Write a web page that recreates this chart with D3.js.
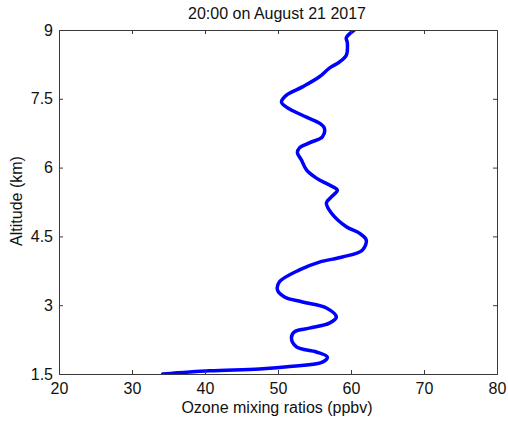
<!DOCTYPE html>
<html>
<head>
<meta charset="utf-8">
<script src="https://cdn.jsdelivr.net/npm/d3@7"></script>
<style>
  html, body { margin: 0; padding: 0; background: #fff; }
  svg { display: block; font-family: "Liberation Sans", Arial, sans-serif; }
</style>
</head>
<body>
<svg id="chart" width="508" height="421"></svg>
<script>
// Ozone profile sampled along altitude (ppbv, km)
const ozone = [60.45, 59.36, 59.5, 59.36, 58.4, 57.04, 55.67, 53.35, 51.16, 50.48,
  51.16, 53.9, 55.67, 56.35, 56.08, 54.3, 52.94, 52.66, 53.2, 53.9,
  55.26, 57.04, 58.13, 57.31, 56.63, 57.31, 59.36, 61.14, 62.09, 61.55,
  58.81, 55.67, 52.94, 50.2, 49.93, 50.89, 53.35, 56.63, 57.99, 57.04,
  54.3, 52.25, 51.84, 52.53, 55.26, 56.76, 56.08, 51.98, 47.47, 40.64, 34.2];
const altitude = [9.0, 8.83, 8.72, 8.45, 8.30, 8.17, 7.98, 7.76, 7.58, 7.43,
  7.32, 7.10, 6.97, 6.86, 6.67, 6.54, 6.43, 6.32, 6.17, 5.95,
  5.77, 5.62, 5.51, 5.36, 5.23, 5.01, 4.71, 4.57, 4.42, 4.20,
  4.05, 3.94, 3.77, 3.51, 3.33, 3.18, 3.07, 2.94, 2.74, 2.61,
  2.50, 2.42, 2.29, 2.09, 1.98, 1.87, 1.76, 1.67, 1.61, 1.57, 1.5];

const xTicks = [20, 30, 40, 50, 60, 70, 80];
const yTicks = [1.5, 3, 4.5, 6, 7.5, 9];
const yTickLabels = ["1.5", "3", "4.5", "6", "7.5", "9"];

const titleText = "20:00 on August 21 2017";
const xLabelText = "Ozone mixing ratios (ppbv)";
const yLabelText = "Altitude (km)";

const svg = d3.select("#chart");
const box = { left: 59, right: 497, top: 30, bottom: 374 };

const x = d3.scaleLinear().domain([20, 80]).range([box.left, box.right]);
const y = d3.scaleLinear().domain([1.5, 9]).range([box.bottom, box.top]);

const axisColor = "#3a3a3a";
const tickLen = 4;
const fontSize = "16px";

// Clip the profile to the axes box
svg.append("clipPath").attr("id", "plotClip")
  .append("rect").attr("x", box.left).attr("y", box.top)
  .attr("width", box.right - box.left).attr("height", box.bottom - box.top);

// Profile line
const pts = ozone.map((v, i) => [v, altitude[i]]);
svg.append("path")
  .datum(pts)
  .attr("clip-path", "url(#plotClip)")
  .attr("fill", "none")
  .attr("stroke", "#0000ff")
  .attr("stroke-width", 3.5)
  .attr("stroke-linejoin", "round")
  .attr("stroke-linecap", "round")
  .attr("d", d3.line().x(d => x(d[0])).y(d => y(d[1])).curve(d3.curveCatmullRom.alpha(0.5)));

// Axes box (bottom/left with labels, top/right mirrored ticks)
const gB = svg.append("g").attr("transform", `translate(0,${box.bottom})`)
  .call(d3.axisBottom(x).tickValues(xTicks).tickSize(-tickLen).tickPadding(9).tickFormat(d3.format("d")));
const gT = svg.append("g").attr("transform", `translate(0,${box.top})`)
  .call(d3.axisTop(x).tickValues(xTicks).tickSize(-tickLen).tickFormat(""));
const gL = svg.append("g").attr("transform", `translate(${box.left},0)`)
  .call(d3.axisLeft(y).tickValues(yTicks).tickSize(-tickLen).tickPadding(6)
    .tickFormat((d, i) => yTickLabels[i]));
const gR = svg.append("g").attr("transform", `translate(${box.right},0)`)
  .call(d3.axisRight(y).tickValues(yTicks).tickSize(-tickLen).tickFormat(""));

[gB, gT, gL, gR].forEach(g => {
  g.select(".domain").attr("stroke", axisColor).attr("stroke-width", 1);
  g.selectAll(".tick line").attr("stroke", axisColor).attr("stroke-width", 1);
  g.selectAll(".tick text").attr("fill", "#111").style("font-size", fontSize)
    .style("font-family", '"Liberation Sans", Arial, sans-serif');
});
// Remove end ticks that sit on the box corners
[gB, gT].forEach(g => g.selectAll(".tick line").filter(d => d === 20 || d === 80).remove());
[gL, gR].forEach(g => g.selectAll(".tick line").filter(d => d === 1.5 || d === 9).remove());

// Title and axis labels
svg.append("text").attr("x", 277).attr("y", 19)
  .attr("text-anchor", "middle").attr("fill", "#111").style("font-size", fontSize)
  .text(titleText);
svg.append("text").attr("x", 277).attr("y", 413)
  .attr("text-anchor", "middle").attr("fill", "#111").style("font-size", fontSize)
  .text(xLabelText);
svg.append("text")
  .attr("transform", `translate(22,201) rotate(-90)`)
  .attr("text-anchor", "middle").attr("fill", "#111").style("font-size", fontSize)
  .text(yLabelText);
</script>
</body>
</html>
